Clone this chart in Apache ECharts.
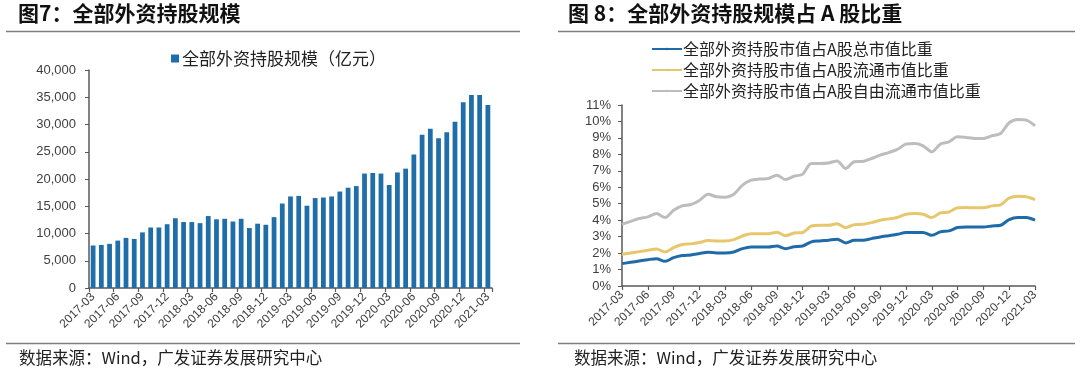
<!DOCTYPE html>
<html><head><meta charset="utf-8">
<script src="https://cdn.jsdelivr.net/npm/echarts@6/dist/echarts.min.js"></script>
<style>html,body{margin:0;padding:0;background:#fff}#c{width:1080px;height:378px}</style>
</head><body><div id="c"></div>
<script>
const months = ['2017-03','2017-04','2017-05','2017-06','2017-07','2017-08','2017-09','2017-10','2017-11','2017-12',
'2018-01','2018-02','2018-03','2018-04','2018-05','2018-06','2018-07','2018-08','2018-09','2018-10','2018-11','2018-12',
'2019-01','2019-02','2019-03','2019-04','2019-05','2019-06','2019-07','2019-08','2019-09','2019-10','2019-11','2019-12',
'2020-01','2020-02','2020-03','2020-04','2020-05','2020-06','2020-07','2020-08','2020-09','2020-10','2020-11','2020-12',
'2021-01','2021-02','2021-03'];

const holdings = [7800,7900,8100,8700,9200,9000,10200,11100,11100,11700,
12800,12100,12100,11900,13200,12600,12700,12200,12700,11000,
11800,11600,13000,15500,16800,16900,15100,16500,16600,16800,
17700,18400,18700,21000,21100,21000,18900,21200,21900,24500,
28100,29200,27500,28600,30500,34100,35400,35400,33600];

const shareTotal = [1.36,1.44,1.52,1.6,1.66,1.5,1.72,1.85,1.89,1.97,
2.05,2.01,2.01,2.07,2.27,2.37,2.37,2.37,2.43,2.27,
2.39,2.43,2.68,2.74,2.78,2.84,2.62,2.78,2.78,2.88,
2.98,3.06,3.14,3.25,3.25,3.25,3.08,3.29,3.35,3.55,
3.59,3.59,3.59,3.65,3.69,4.04,4.16,4.16,4.0];

const shareFloat = [1.93,2.0,2.09,2.17,2.25,2.07,2.33,2.52,2.56,2.64,
2.76,2.74,2.74,2.82,3.04,3.18,3.18,3.18,3.27,3.06,
3.22,3.25,3.65,3.69,3.69,3.79,3.55,3.73,3.75,3.85,
4.0,4.08,4.16,4.36,4.4,4.36,4.16,4.44,4.5,4.75,
4.77,4.75,4.75,4.87,4.93,5.35,5.46,5.42,5.25];

const shareFreeFloat = [3.75,3.93,4.1,4.2,4.4,4.16,4.6,4.87,4.95,5.2,
5.58,5.42,5.4,5.58,6.13,6.43,6.5,6.53,6.73,6.47,
6.67,6.8,7.45,7.45,7.48,7.6,7.14,7.55,7.57,7.75,
7.95,8.11,8.3,8.62,8.66,8.52,8.15,8.62,8.76,9.07,
9.03,8.97,8.97,9.13,9.27,9.92,10.12,10.08,9.74];

const titleLeft = '图7：全部外资持股规模';
const titleRight = '图 8：全部外资持股规模占 A 股比重';
const sourceText = '数据来源：Wind，广发证券发展研究中心';
const nameBar = '全部外资持股规模（亿元）';
const nameTotal = '全部外资持股市值占A股总市值比重';
const nameFloat = '全部外资持股市值占A股流通市值比重';
const nameFree = '全部外资持股市值占A股自由流通市值比重';

const CJK = '"Noto Sans CJK SC", sans-serif';
const LAT = '"Liberation Sans", Arial, sans-serif';
const axisCol = '#595959';
const labCol = '#404040';

const chart = echarts.init(document.getElementById('c'), null, {renderer: 'canvas'});

function xAxisCfg(gridIndex, boundaryGap) {
  return {
    type: 'category', gridIndex, data: months, boundaryGap,
    axisLine: {lineStyle: {color: axisCol, width: 1.5}},
    axisTick: {show: true, interval: 2, length: 4, inside: false, lineStyle: {color: axisCol, width: 1.2}},
    axisLabel: {interval: 2, rotate: 45, fontFamily: LAT, fontSize: 12, color: labCol, margin: 7},
    splitLine: {show: false}
  };
}

chart.setOption({
  animation: false,
  backgroundColor: '#fff',
  textStyle: {fontFamily: CJK},
  grid: [
    {left: 89, top: 70, width: 403, height: 218},
    {left: 622, top: 105, width: 413, height: 181}
  ],
  xAxis: [xAxisCfg(0, true), xAxisCfg(1, false)],
  yAxis: [
    {type: 'value', gridIndex: 0, min: 0, max: 40000, interval: 5000,
     axisLine: {show: true, lineStyle: {color: axisCol, width: 1.5}},
     axisTick: {show: true, length: 4, lineStyle: {color: axisCol}},
     splitLine: {show: false},
     axisLabel: {fontFamily: LAT, fontSize: 13, color: labCol, margin: 13,
       formatter: v => v.toLocaleString('en-US')}},
    {type: 'value', gridIndex: 1, min: 0, max: 11, interval: 1,
     axisLine: {show: true, lineStyle: {color: axisCol, width: 1.5}},
     axisTick: {show: true, length: 4, lineStyle: {color: axisCol}},
     splitLine: {show: false},
     axisLabel: {fontFamily: LAT, fontSize: 13, color: labCol, margin: 11, formatter: '{value}%'}}
  ],
  legend: [
    {data: [nameBar], left: 166, top: 45, icon: 'rect', itemWidth: 8, itemHeight: 8, itemGap: 4,
     textStyle: {fontFamily: CJK, fontSize: 17, color: '#222', padding: [0,0,0,-2]}},
    {data: [nameTotal, nameFloat, nameFree], orient: 'vertical', left: 646, top: 36,
     itemWidth: 30, itemHeight: 3, itemGap: 5,
     textStyle: {fontFamily: CJK, fontSize: 16, color: '#222', padding: [0,0,0,-4]}}
  ],
  series: [
    {name: nameBar, type: 'bar', xAxisIndex: 0, yAxisIndex: 0, data: holdings,
     barWidth: '58%', itemStyle: {color: '#1f6ea9'}},
    {name: nameTotal, type: 'line', xAxisIndex: 1, yAxisIndex: 1, data: shareTotal,
     symbol: 'none', smooth: 0.3, lineStyle: {color: '#1f6aa8', width: 3}, itemStyle: {color: '#1f6aa8'}},
    {name: nameFloat, type: 'line', xAxisIndex: 1, yAxisIndex: 1, data: shareFloat,
     symbol: 'none', smooth: 0.3, lineStyle: {color: '#e7c76e', width: 3}, itemStyle: {color: '#e7c76e'}},
    {name: nameFree, type: 'line', xAxisIndex: 1, yAxisIndex: 1, data: shareFreeFloat,
     symbol: 'none', smooth: 0.3, lineStyle: {color: '#bdbdbd', width: 3}, itemStyle: {color: '#bdbdbd'}}
  ],
  graphic: [
    {type: 'text', left: 18, top: 3, style: {text: titleLeft, font: 'bold 21px ' + CJK, fill: '#111'}},
    {type: 'text', left: 568, top: 3, style: {text: titleRight, font: 'bold 21px ' + CJK, fill: '#111'}},
    {type: 'line', shape: {x1: 6, y1: 31.5, x2: 520, y2: 31.5}, style: {stroke: '#7f7f7f', lineWidth: 1.5}},
    {type: 'line', shape: {x1: 558, y1: 31.5, x2: 1075, y2: 31.5}, style: {stroke: '#7f7f7f', lineWidth: 1.5}},
    {type: 'line', shape: {x1: 6, y1: 343.5, x2: 520, y2: 343.5}, style: {stroke: '#7f7f7f', lineWidth: 1.5}},
    {type: 'line', shape: {x1: 558, y1: 343.5, x2: 1075, y2: 343.5}, style: {stroke: '#7f7f7f', lineWidth: 1.5}},
    {type: 'text', left: 19, top: 349, style: {text: sourceText, font: '16.5px ' + CJK, fill: '#222'}},
    {type: 'text', left: 574, top: 349, style: {text: sourceText, font: '16.5px ' + CJK, fill: '#222'}}
  ]
});
</script>
</body></html>
